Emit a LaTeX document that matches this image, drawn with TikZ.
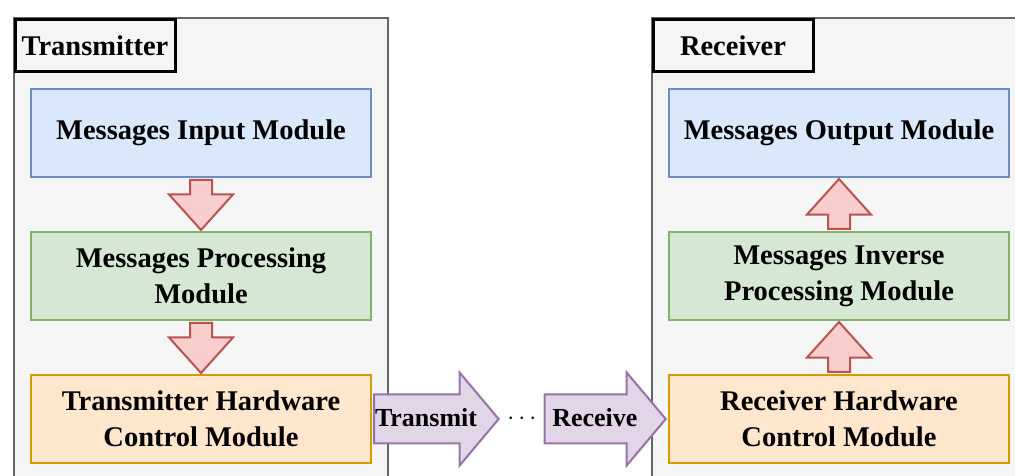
\documentclass[tikz,border=0pt]{standalone}
\usepackage{fontspec}
\setmainfont{Liberation Serif}
\usepackage{tikz}
\usetikzlibrary{shapes.arrows, positioning, calc}

\begin{document}
\begin{tikzpicture}[x=1pt, y=1pt, node distance=53pt,
    font=\fontsize{28.5}{36}\selectfont\bfseries,
    module/.style={draw, line width=2pt, minimum width=340pt, minimum height=88pt, align=center, inner sep=0pt},
    sidebox/.style={draw=sidegray, fill=sidefill, line width=2pt, minimum width=374pt, minimum height=500pt, anchor=north west},
    titlebox/.style={draw=black, fill=sidefill, line width=3pt, minimum width=160pt, minimum height=52pt, anchor=north west, inner sep=0pt},
    redarrow/.style={single arrow, draw=redline, fill=redfill, line width=2pt, inner xsep=10pt, inner ysep=0pt, single arrow head extend=21pt, single arrow tip angle=84, minimum height=50pt},
    purparrow/.style={single arrow, draw=purpline, fill=purpfill, line width=2pt, inner xsep=0pt, text height=19pt, text depth=3pt, inner ysep=12.5pt, minimum height=121pt, single arrow head extend=22pt, single arrow tip angle=100, font=\fontsize{26}{30}\selectfont\bfseries}]
  \definecolor{sidegray}{HTML}{666666}
  \definecolor{sidefill}{HTML}{F5F5F5}
  \definecolor{bluefill}{HTML}{DAE8FC}
  \definecolor{blueline}{HTML}{6C8EBF}
  \definecolor{greenfill}{HTML}{D5E8D4}
  \definecolor{greenline}{HTML}{82B366}
  \definecolor{orangefill}{HTML}{FFE6CC}
  \definecolor{orangeline}{HTML}{D79B00}
  \definecolor{redfill}{HTML}{F8CECC}
  \definecolor{redline}{HTML}{B85450}
  \definecolor{purpfill}{HTML}{E1D5E7}
  \definecolor{purpline}{HTML}{9673A6}

  \clip (0,0) rectangle (1015,476);

  % sides
  \node[sidebox] (txside) at (13,459) {};
  \node[sidebox] (rxside) at (651,459) {};
  \node[titlebox] (txtitle) at (13.5,457.5) {Transmitter};
  \node[titlebox] (rxtitle) at (651.5,457.5) {Receiver};

  % transmitter
  \node[module, fill=bluefill, draw=blueline] (minput) at (201,343) {Messages Input Module};
  \node[module, fill=greenfill, draw=greenline, below=of minput] (mproc) {Messages Processing\\Module};
  \node[module, fill=orangefill, draw=orangeline, below=of mproc] (txhw) {Transmitter Hardware\\Control Module};

  % receiver
  \node[module, fill=bluefill, draw=blueline] (moutput) at (839,343) {Messages Output Module};
  \node[module, fill=greenfill, draw=greenline, below=of moutput] (minvproc) {Messages Inverse\\Processing Module};
  \node[module, fill=orangefill, draw=orangeline, below=of minvproc] (rxhw) {Receiver Hardware\\Control Module};

  \node[redarrow, shape border rotate=270, anchor=tail] (txarr1) at ($(minput.south)+(0,-1)$) {};
  \node[redarrow, shape border rotate=270, anchor=tail] (txarr2) at ($(mproc.south)+(0,-1)$) {};
  \node[redarrow, shape border rotate=90, anchor=tail] (rxarr1) at ($(rxhw.north)+(0,1)$) {};
  \node[redarrow, shape border rotate=90, anchor=tail] (rxarr2) at ($(minvproc.north)+(0,1)$) {};

  % channel
  \node[purparrow, anchor=tail] (transmit) at ($(txhw.east)+(1,0)$) {Transmit};
  \node[purparrow, anchor=tip] (receive) at ($(rxhw.west)+(-1,0)$) {Receive};
  \node[font=\fontsize{40}{40}\selectfont] (dots) at ($(transmit.tip)!0.5!(receive.tail)$) {$\cdots$};
\end{tikzpicture}
\end{document}
